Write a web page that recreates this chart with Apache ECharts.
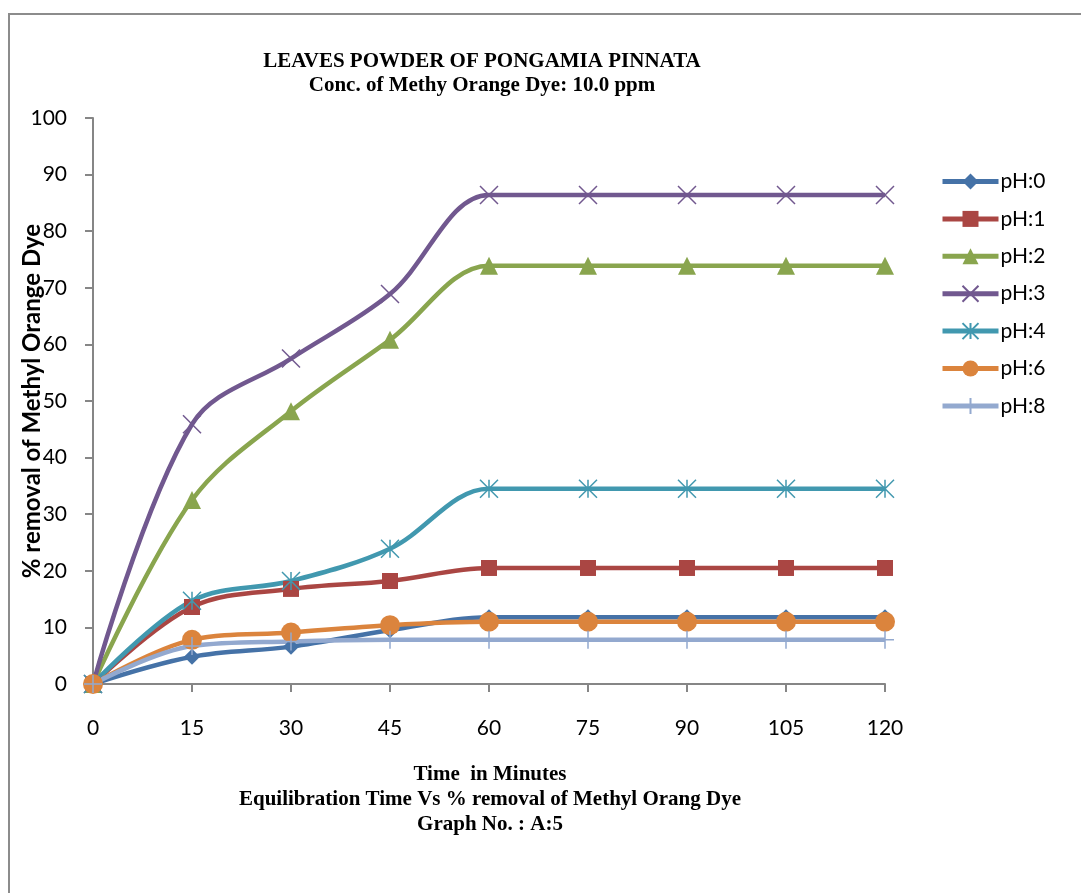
<!DOCTYPE html>
<html>
<head>
<meta charset="utf-8">
<script src="https://cdn.jsdelivr.net/npm/echarts@6/dist/echarts.min.js"></script>
<style>html,body{margin:0;padding:0;background:#fff;}#c{width:1081px;height:893px;}</style>
</head>
<body>
<div id="c"></div>
<script>
var categories = ['0', '15', '30', '45', '60', '75', '90', '105', '120'];
var yTicks = [0, 10, 20, 30, 40, 50, 60, 70, 80, 90, 100];
var seriesNames = ['pH:0', 'pH:1', 'pH:2', 'pH:3', 'pH:4', 'pH:6', 'pH:8'];
var ph0 = [0, 4.8, 6.6, 9.5, 11.8, 11.8, 11.8, 11.8, 11.8];
var ph1 = [0, 13.6, 16.8, 18.2, 20.5, 20.5, 20.5, 20.5, 20.5];
var ph2 = [0, 32.5, 48.2, 60.8, 73.9, 73.9, 73.9, 73.9, 73.9];
var ph3 = [0, 45.9, 57.5, 68.9, 86.4, 86.4, 86.4, 86.4, 86.4];
var ph4 = [0, 14.7, 18.2, 23.9, 34.5, 34.5, 34.5, 34.5, 34.5];
var ph6 = [0, 7.8, 9.1, 10.4, 11.0, 11.0, 11.0, 11.0, 11.0];
var ph8 = [0, 6.7, 7.5, 7.8, 7.8, 7.8, 7.8, 7.8, 7.8];
var titleLines = ['LEAVES POWDER OF PONGAMIA PINNATA', 'Conc. of Methy Orange Dye: 10.0 ppm'];
var footerLines = ['Time  in Minutes', 'Equilibration Time Vs % removal of Methyl Orang Dye', 'Graph No. : A:5'];
var yAxisName = '% removal of Methyl Orange Dye';

var colors = ['#4572A7', '#AA4643', '#89A54E', '#71588F', '#4198AF', '#DB843D', '#93A9CF'];
var symbols = [
  'diamond',
  'rect',
  'triangle',
  'path://M0,0L10,10M10,0L0,10',
  'path://M5,0L5,10M0,0L10,10M10,0L0,10',
  'circle',
  'path://M5,0L5,10M0,5L10,5'
];
var sizes = [16, 16, 18, 18, 18, 20, 18];
var dataSets = [ph0, ph1, ph2, ph3, ph4, ph6, ph8];

var chart = echarts.init(document.getElementById('c'));
var series = seriesNames.map(function (n, i) {
  var strokeOnly = symbols[i].indexOf('path://') === 0;
  return {
    name: n,
    type: 'line',
    data: dataSets[i],
    smooth: 0.35,
    symbol: symbols[i],
    symbolSize: sizes[i],
    showAllSymbol: true,
    lineStyle: { color: colors[i], width: 4.5 },
    itemStyle: strokeOnly ? { color: colors[i], borderColor: colors[i], borderWidth: 1.5 } : { color: colors[i], borderWidth: 0 },
    emphasis: { disabled: true },
    z: 2
  };
});

var serifFont = 'bold 21px "Liberation Serif"';
var graphics = [
  { type: 'polyline', shape: { points: [[9, 893], [9, 14], [1081, 14]] },
    style: { stroke: '#8c8c8c', lineWidth: 2, fill: 'none' }, silent: true }
];
var titleY = [62, 86];
titleLines.forEach(function (t, i) {
  graphics.push({ type: 'text', x: 482, y: titleY[i], silent: true,
    style: { text: t, font: serifFont, fill: '#000', align: 'center', verticalAlign: 'middle' } });
});
var footerY = [775, 800, 825];
footerLines.forEach(function (t, i) {
  graphics.push({ type: 'text', x: 490, y: footerY[i], silent: true,
    style: { text: t, font: serifFont, fill: '#000', align: 'center', verticalAlign: 'middle' } });
});

chart.setOption({
  animation: false,
  backgroundColor: '#fff',
  color: colors,
  graphic: graphics,
  legend: {
    orient: 'vertical',
    left: 940,
    top: 171,
    padding: 0,
    itemWidth: 56,
    itemHeight: 20,
    itemGap: 16.4,
    lineStyle: { width: 5 },
    data: seriesNames,
    textStyle: { fontFamily: 'Lato', fontSize: 21, color: '#000', padding: [0, 0, 0, -3] }
  },
  grid: { left: 93, top: 118, right: 196, bottom: 209, containLabel: false, outerBoundsMode: 'none' },
  xAxis: {
    type: 'category',
    data: categories,
    boundaryGap: false,
    axisLine: { lineStyle: { color: '#868686', width: 2 } },
    axisTick: { show: true, length: 8, lineStyle: { color: '#868686', width: 2 } },
    axisLabel: { fontFamily: 'Lato', fontSize: 21, color: '#000', margin: 34 },
    splitLine: { show: false }
  },
  yAxis: {
    type: 'value',
    min: yTicks[0],
    max: yTicks[yTicks.length - 1],
    interval: 10,
    name: yAxisName,
    nameLocation: 'middle',
    nameGap: 49,
    nameMoveOverlap: false,
    nameTextStyle: { fontFamily: 'Lato', fontWeight: 'bold', fontSize: 24, color: '#000' },
    axisLine: { show: true, lineStyle: { color: '#868686', width: 2 } },
    axisTick: { show: true, length: 8, lineStyle: { color: '#868686', width: 2 } },
    axisLabel: { fontFamily: 'Lato', fontSize: 21, color: '#000', margin: 26 },
    splitLine: { show: false }
  },
  series: series
});
</script>
</body>
</html>
